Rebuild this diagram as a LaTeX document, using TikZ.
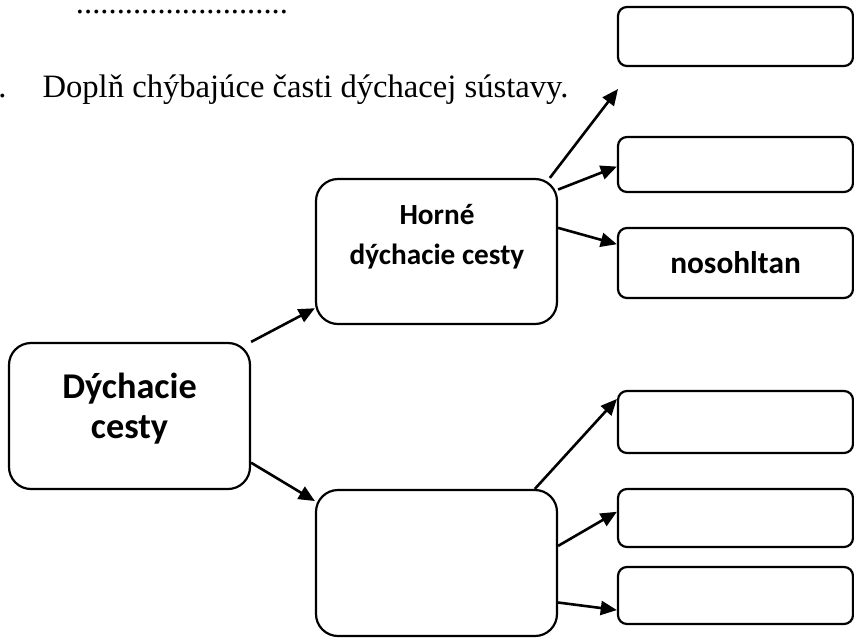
\documentclass[tikz,border=0pt]{standalone}
\usepackage{fontspec}
\setmainfont{Liberation Serif}
\newfontfamily\calibri{Carlito}
\usetikzlibrary{arrows.meta}
\newlength{\du}
\setlength{\du}{0.711317pt}
\tikzset{
  bigbox/.style={draw=dialinecolor, line width=2.2\du, rounded corners=22\du, inner sep=0pt,
    minimum width=241\du, minimum height=146\du},
  smallbox/.style={draw=dialinecolor, line width=2.2\du, rounded corners=9\du, inner sep=0pt,
    minimum width=235\du, font=\calibri\bfseries\fontsize{22.3}{27}\selectfont},
  boxtext/.style={inner sep=0pt, align=center, font=\calibri\bfseries\fontsize{20.8}{28.5}\selectfont},
  headtext/.style={anchor=base west, inner sep=0pt, font=\fontsize{23.2}{27}\selectfont},
  conn/.style={draw=dialinecolor, line width=2.6\du, -{Triangle[length=11.5pt,width=10pt]}},
}

\begin{document}
\begin{tikzpicture}
\pgftransformxscale{1.000000}
\pgftransformyscale{-1.000000}
\definecolor{dialinecolor}{rgb}{0.000000, 0.000000, 0.000000}
\useasboundingbox (0.000000\du,0.000000\du) rectangle (854.000000\du,638.000000\du);
% heading
\node[headtext] (dots) at (75.700000\du,13.500000\du) {..........................};
\node[headtext] (num) at (-2.000000\du,97.000000\du) {.};
\node[headtext] (task) at (42.300000\du,97.000000\du) {Doplň chýbajúce časti dýchacej sústavy.};
% main boxes
\node[bigbox] (dych) at (129.500000\du,416.000000\du) {};
\node[boxtext, font=\calibri\bfseries\fontsize{25.8}{28.5}\selectfont] (dychtxt) at (129.500000\du,408.500000\du) {Dýchacie\\cesty};
\node[bigbox, minimum height=145\du] (horne) at (436.500000\du,251.500000\du) {};
\node[boxtext] (hornetxt) at (437.000000\du,237.000000\du) {Horné\\dýchacie cesty};
\node[bigbox] (dolne) at (436.500000\du,563.000000\du) {};
% right column
\node[smallbox, minimum height=59\du] (r1) at (735.500000\du,36.500000\du) {};
\node[smallbox, minimum height=55\du] (r2) at (735.500000\du,164.500000\du) {};
\node[smallbox, minimum height=70\du] (r3) at (735.500000\du,263.000000\du) {nosohltan};
\node[smallbox, minimum height=62\du] (r4) at (735.500000\du,422.000000\du) {};
\node[smallbox, minimum height=58\du] (r5) at (735.500000\du,518.000000\du) {};
\node[smallbox, minimum height=57\du] (r6) at (735.500000\du,595.500000\du) {};
\coordinate (tip1) at (618.000000\du,89.000000\du);
% arrows
\draw[conn] (dych.north east) -- (horne.205);
\draw[conn] (dych.-21) -- (dolne.153);
\draw[conn] (horne.33) -- (tip1);
\draw[conn] (horne.27) -- (r2.181);
\draw[conn] (horne.11) -- (r3.171);
\draw[conn] (dolne.37) -- (r4.169);
\draw[conn] (dolne.8) -- (r5.177);
\draw[conn] (dolne.-18) -- (r6.187);
\end{tikzpicture}
\end{document}
